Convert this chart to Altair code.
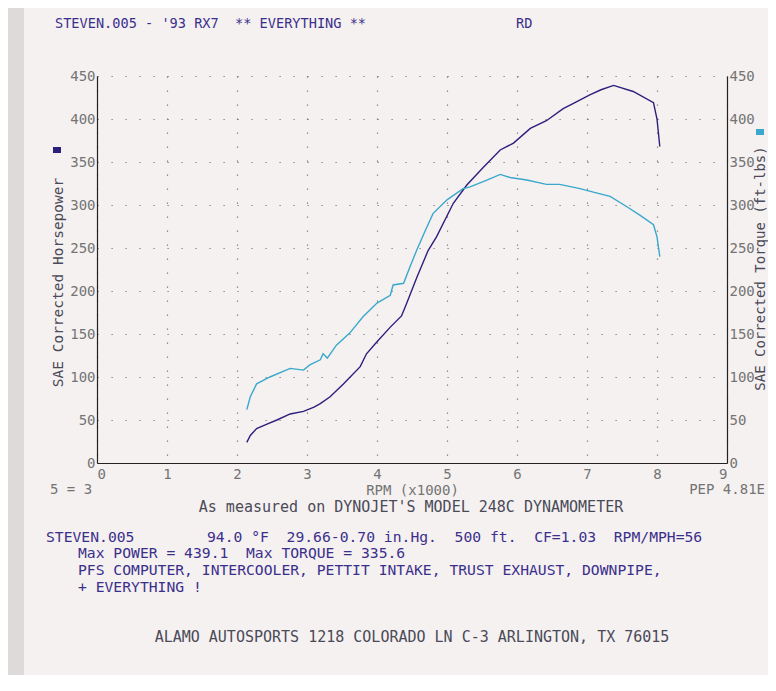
import altair as alt
import pandas as pd

# ---- data read from the dyno sheet ----
hp_rpm = [2.14, 2.19, 2.28, 2.42, 2.57, 2.76, 2.95, 3.10, 3.19, 3.33, 3.52, 3.76, 3.85,
          4.00, 4.19, 4.35, 4.42, 4.57, 4.73, 4.85, 5.09, 5.28, 5.52, 5.76, 5.95, 6.19,
          6.42, 6.66, 6.80, 7.04, 7.20, 7.38, 7.66, 7.95, 8.00, 8.04]
hp_val = [24, 32, 40, 45, 50, 57, 60, 65, 69, 77, 92, 112, 127,
          141, 158, 171, 185, 216, 247, 263, 302, 323, 344, 364, 372, 389,
          398, 412, 418, 428, 434, 439.1, 432, 419, 400, 368]

tq_rpm = [2.14, 2.19, 2.28, 2.47, 2.76, 2.95, 3.04, 3.19, 3.23, 3.29, 3.42, 3.61, 3.80,
          4.00, 4.19, 4.23, 4.38, 4.47, 4.57, 4.70, 4.80, 5.00, 5.23, 5.33, 5.57, 5.76,
          5.90, 6.14, 6.42, 6.61, 6.90, 7.09, 7.33, 7.57, 7.76, 7.95, 8.00, 8.04]
tq_val = [62, 77, 92, 100, 110, 108, 114, 120, 127, 122, 137, 151, 170,
          186, 195, 207, 209, 228, 248, 272, 290, 306, 319, 321, 329, 335.6,
          332, 329, 324, 324, 319, 315, 310, 298, 288, 277, 263, 240]

x_ticks = [0, 1, 2, 3, 4, 5, 6, 7, 8, 9]
y_ticks = [0, 50, 100, 150, 200, 250, 300, 350, 400, 450]

header = "STEVEN.005 - '93 RX7  ** EVERYTHING **"
header_right = "RD"
foot_left = "5 = 3"
foot_right = "PEP 4.81E"
measured = "As measured on DYNOJET'S MODEL 248C DYNAMOMETER"
run_name = "STEVEN.005"
conditions = "94.0 °F  29.66-0.70 in.Hg.  500 ft.  CF=1.03  RPM/MPH=56"
maxline = "Max POWER = 439.1  Max TORQUE = 335.6"
mods1 = "PFS COMPUTER, INTERCOOLER, PETTIT INTAKE, TRUST EXHAUST, DOWNPIPE,"
mods2 = "+ EVERYTHING !"
shop = "ALAMO AUTOSPORTS 1218 COLORADO LN C-3 ARLINGTON, TX 76015"

hp_df = pd.DataFrame({"rpm": hp_rpm, "value": hp_val})
tq_df = pd.DataFrame({"rpm": tq_rpm, "value": tq_val})

FONT = "DejaVu Sans Mono"
NAVY = "#2b1f7c"
CYAN = "#3aa8cc"
INK = "#3b2f8c"
GRAY = "#747474"
DARK = "#4a4a58"
W, H = 630, 387

xscale = alt.Scale(domain=[0, 9], nice=False, zero=False)
yscale = alt.Scale(domain=[0, 450], nice=False)

x_axis = alt.Axis(values=x_ticks, grid=True, gridDash=[1.2, 12.8], gridColor="#777777",
                  gridWidth=1.2, ticks=False, domainColor="#222222", domainWidth=1.2,
                  labelFont=FONT, labelFontSize=14, labelColor=GRAY, labelPadding=4,
                  title="RPM (x1000)", titleFont=FONT, titleFontSize=14,
                  titleFontWeight="normal", titleColor=GRAY, titleBaseline="middle",
                  titleY=27)

left_axis = alt.Axis(orient="left", values=y_ticks, grid=True, gridDash=[1.2, 12.8],
                     gridColor="#777777", gridWidth=1.2, ticks=False,
                     domainColor="#222222", domainWidth=1.2,
                     labelFont=FONT, labelFontSize=14, labelColor=GRAY, labelPadding=2,
                     title="SAE Corrected Horsepower", titleFont=FONT, titleFontSize=14.5,
                     titleFontWeight="normal", titleColor=DARK, titleAngle=270,
                     titleBaseline="middle", titleX=-39, titleY=206)

right_axis = alt.Axis(orient="right", values=y_ticks, grid=False, ticks=False,
                      domainColor="#222222", domainWidth=1.2,
                      labelFont=FONT, labelFontSize=14, labelColor=GRAY, labelPadding=2,
                      title="SAE Corrected Torque (ft-lbs)", titleFont=FONT,
                      titleFontSize=14, titleFontWeight="normal", titleColor=DARK,
                      titleAngle=270, titleBaseline="middle", titleX=33, titleY=192)

hp_line = alt.Chart(hp_df).mark_line(color=NAVY, strokeWidth=1.4).encode(
    x=alt.X("rpm:Q", scale=xscale, axis=x_axis),
    y=alt.Y("value:Q", scale=yscale, axis=left_axis),
)

tq_line = alt.Chart(tq_df).mark_line(color=CYAN, strokeWidth=1.4).encode(
    x=alt.X("rpm:Q", scale=xscale, axis=x_axis),
    y=alt.Y("value:Q", scale=yscale, axis=right_axis),
)


def keep_spaces(s):
    # SVG collapses runs of spaces; keep the printer's double gaps
    return s.replace("  ", " \u00a0")


def txt(s, x, y, size=14.7, color=INK, align="left"):
    return alt.Chart(pd.DataFrame({"t": [keep_spaces(s)]})).mark_text(
        font=FONT, fontSize=size, color=color, align=align, baseline="middle"
    ).encode(text="t:N", x=alt.value(x), y=alt.value(y))


def square(x, y, color):
    return alt.Chart(pd.DataFrame({"k": [0]})).mark_rect(color=color).encode(
        x=alt.value(x), x2=alt.value(x + 8), y=alt.value(y), y2=alt.value(y + 6))


strip = alt.Chart(pd.DataFrame({"k": [0]})).mark_rect(color="#dedada").encode(
    x=alt.value(-105), x2=alt.value(-73), y=alt.value(-90), y2=alt.value(H + 240))

ox, oy = 97, 76  # plot origin in page pixels
texts = [
    txt(header, 55 - ox, 24 - oy, size=13.6),
    txt(header_right, 516 - ox, 24 - oy, size=13.6),
    txt(foot_left, 50 - ox, 490 - oy, color=GRAY, size=14),
    txt(foot_right, 765 - ox, 490 - oy, color=GRAY, align="right", size=14),
    txt(measured, 411 - ox, 507 - oy, color=DARK, align="center", size=15),
    txt(run_name, 46 - ox, 538 - oy),
    txt(conditions, 207 - ox, 538 - oy),
    txt(maxline, 78 - ox, 554 - oy),
    txt(mods1, 78 - ox, 571 - oy),
    txt(mods2, 78 - ox, 588 - oy),
    txt(shop, 412 - ox, 637 - oy, size=15, color=DARK, align="center"),
]

chart = alt.layer(
    strip, hp_line, tq_line, *texts,
    square(53 - ox, 147 - oy, NAVY),
    square(756 - ox, 129 - oy, CYAN),
).resolve_scale(y="independent").properties(
    width=W, height=H,
    autosize=alt.AutoSizeParams(type="none"),
    padding={"left": 89, "top": 68, "right": 41, "bottom": 212},
    background="#f5f1f0",
).configure_view(stroke=None)

chart.save("out.html", embed_options={"renderer": "svg", "actions": False})
